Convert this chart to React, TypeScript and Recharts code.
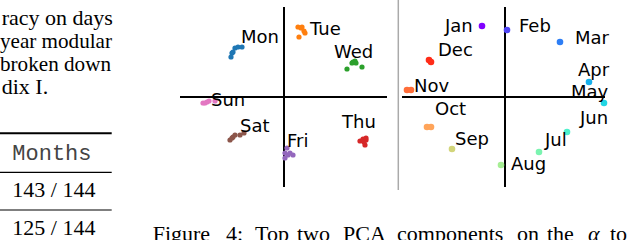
import React from 'react';
import { ScatterChart, Scatter, XAxis, YAxis, ReferenceLine } from 'recharts';

type P = { x: number; y: number };

// ---- Left panel: days of week (PCA components) ----
const days = ['Mon', 'Tue', 'Wed', 'Thu', 'Fri', 'Sat', 'Sun'];
const dayColors = ['#1f77b4', '#ff7f0e', '#2ca02c', '#d62728', '#9467bd', '#8c564b', '#e377c2'];
const monPts: P[] = [{ x: -0.52, y: 0.44 }, { x: -0.49, y: 0.49 }, { x: -0.46, y: 0.5 }, { x: -0.42, y: 0.5 }, { x: -0.51, y: 0.45 }, { x: -0.53, y: 0.4 }];
const tuePts: P[] = [{ x: 0.14, y: 0.7 }, { x: 0.18, y: 0.7 }, { x: 0.21, y: 0.64 }, { x: 0.15, y: 0.6 }, { x: 0.17, y: 0.69 }, { x: 0.2, y: 0.66 }];
const wedPts: P[] = [{ x: 0.69, y: 0.35 }, { x: 0.71, y: 0.36 }, { x: 0.68, y: 0.34 }, { x: 0.63, y: 0.28 }, { x: 0.78, y: 0.3 }, { x: 0.72, y: 0.34 }];
const thuPts: P[] = [{ x: 0.76, y: -0.44 }, { x: 0.79, y: -0.42 }, { x: 0.82, y: -0.43 }, { x: 0.81, y: -0.48 }, { x: 0.8, y: -0.45 }, { x: 0.82, y: -0.41 }];
const friPts: P[] = [{ x: 0.01, y: -0.56 }, { x: 0.03, y: -0.51 }, { x: 0.04, y: -0.58 }, { x: 0.09, y: -0.58 }, { x: 0.01, y: -0.61 }, { x: 0.06, y: -0.56 }];
const satPts: P[] = [{ x: -0.54, y: -0.43 }, { x: -0.51, y: -0.4 }, { x: -0.49, y: -0.38 }, { x: -0.44, y: -0.38 }, { x: -0.4, y: -0.36 }, { x: -0.52, y: -0.41 }];
const sunPts: P[] = [{ x: -0.81, y: -0.06 }, { x: -0.77, y: -0.05 }, { x: -0.69, y: -0.04 }, { x: -0.79, y: -0.06 }, { x: -0.75, y: -0.04 }];
const dayPoints = [monPts, tuePts, wedPts, thuPts, friPts, satPts, sunPts];
const dayLabelAnchors: P[] = [
  { x: -0.43, y: 0.605 }, { x: 0.26, y: 0.685 }, { x: 0.5, y: 0.455 }, { x: 0.58, y: -0.24 },
  { x: 0.03, y: -0.435 }, { x: -0.44, y: -0.285 }, { x: -0.73, y: -0.025 },
];

// ---- Right panel: months ----
const months = ['Jan', 'Feb', 'Mar', 'Apr', 'May', 'Jun', 'Jul', 'Aug', 'Sep', 'Oct', 'Nov', 'Dec'];
const monthColors = ['#8000ff', '#4f44f5', '#2d7ef5', '#17b0ec', '#22d6e3', '#4ef0cc', '#7af4b0', '#a6ee94', '#d2d57a', '#ffa45a', '#ff6e3a', '#ff2c18'];
const monthPoints: P[][] = [
  [{ x: -0.23, y: 0.71 }],
  [{ x: 0.02, y: 0.67 }],
  [{ x: 0.55, y: 0.55 }],
  [{ x: 0.84, y: 0.15 }],
  [{ x: 0.99, y: -0.06 }],
  [{ x: 0.62, y: -0.35 }],
  [{ x: 0.34, y: -0.55 }],
  [{ x: -0.04, y: -0.68 }],
  [{ x: -0.53, y: -0.52 }],
  [{ x: -0.78, y: -0.3 }, { x: -0.74, y: -0.3 }],
  [{ x: -0.98, y: 0.07 }, { x: -0.94, y: 0.07 }],
  [{ x: -0.76, y: 0.37 }, { x: -0.74, y: 0.35 }],
];
const monthLabelAnchors: P[] = [
  { x: -0.6, y: 0.72 }, { x: 0.14, y: 0.72 }, { x: 0.7, y: 0.6 }, { x: 0.73, y: 0.275 },
  { x: 0.66, y: 0.055 }, { x: 0.75, y: -0.2 }, { x: 0.4, y: -0.425 }, { x: 0.06, y: -0.665 },
  { x: -0.5, y: -0.415 }, { x: -0.7, y: -0.11 }, { x: -0.91, y: 0.12 }, { x: -0.67, y: 0.48 },
];

// ---- Surrounding page text ----
const paraLines = ['racy on days', 'year modular', 'broken down', 'dix I.'];
const tableHeader = 'Months';
const tableRows = ['143 / 144', '125 / 144'];
const captionWords = ['Figure', '4:', 'Top', 'two', 'PCA', 'components', 'on', 'the', 'α', 'to'];
const captionX = [152.7, 226, 255, 297, 343, 397, 517, 547, 588, 610];

const labelFont = 'DejaVu Sans';
const serif = 'Liberation Serif';

const dot = (color: string, r: number) => (props: any) => (
  <circle cx={props.cx} cy={props.cy} r={r} fill={color} />
);
const label = (text: string) => (props: any) => (
  <text x={props.cx} y={props.cy} fontFamily={labelFont} fontSize={18} fill="#000" dominantBaseline="central" textAnchor="start">
    {text}
  </text>
);

function Panel(props: {
  names: string[]; colors: string[]; points: P[][]; anchors: P[]; r: number;
  xDomain: [number, number]; left: number; width: number; margin: any;
}) {
  const { names, colors, points, anchors, r, xDomain, left, width, margin } = props;
  return (
    <div style={{ position: 'absolute', left, top: 0 }}>
      <ScatterChart width={width} height={194} margin={margin}>
        <XAxis type="number" dataKey="x" domain={xDomain} hide />
        <YAxis type="number" dataKey="y" domain={[-0.9, 0.9]} hide />
        <ReferenceLine x={0} stroke="#000" strokeWidth={2} />
        <ReferenceLine y={0} stroke="#000" strokeWidth={2} />
        {names.map((n, i) => (
          <Scatter key={n} name={n} data={points[i]} shape={dot(colors[i], r)} isAnimationActive={false} />
        ))}
        {names.map((n, i) => (
          <Scatter key={n + '-lbl'} data={[anchors[i]]} shape={label(n)} isAnimationActive={false} />
        ))}
      </ScatterChart>
    </div>
  );
}

export default function App() {
  const paraX = [1.7, 0, 0, 1.7];
  const paraLen = [undefined, 112, 111, undefined];
  return (
    <div style={{ position: 'fixed', left: 0, top: 0, width: 640, height: 240, overflow: 'hidden', background: '#fff' }}>
      <svg width={640} height={240} style={{ position: 'absolute', left: 0, top: 0 }}>
        {paraLines.map((t, i) => (
          <text key={t} x={paraX[i]} y={24.5 + i * 23} fontFamily={serif} fontSize={22} fill="#000"
            textLength={paraLen[i]} lengthAdjust={paraLen[i] ? 'spacingAndGlyphs' : undefined}>
            {t}
          </text>
        ))}
        <line x1={0} x2={111.7} y1={133.3} y2={133.3} stroke="#000" strokeWidth={2} />
        <text x={12.3} y={160} fontFamily="Liberation Mono" fontSize={22} fill="#444">{tableHeader}</text>
        <line x1={0} x2={111.7} y1={172.3} y2={172.3} stroke="#000" strokeWidth={1.2} />
        <text x={12.3} y={196.7} fontFamily={serif} fontSize={22} fill="#000">{tableRows[0]}</text>
        <line x1={0} x2={111.7} y1={210} y2={210} stroke="#000" strokeWidth={1.2} />
        <text x={12.3} y={235} fontFamily={serif} fontSize={22} fill="#000">{tableRows[1]}</text>
        <line x1={398.3} x2={398.3} y1={0} y2={190} stroke="#aaa" strokeWidth={1.5} />
        <text y={241} fontFamily={serif} fontSize={22} fill="#000">
          {captionWords.map((w, i) => (
            <tspan key={i} x={captionX[i]} fontStyle={w === 'α' ? 'italic' : 'normal'}>{w}</tspan>
          ))}
        </text>
      </svg>
      <Panel names={days} colors={dayColors} points={dayPoints} anchors={dayLabelAnchors} r={2.6}
        xDomain={[-1.04, 1.03]} left={170} width={230} margin={{ top: 7, right: 13, bottom: 7, left: 10 }} />
      <Panel names={months} colors={monthColors} points={monthPoints} anchors={monthLabelAnchors} r={3.3}
        xDomain={[-1.03, 1.0]} left={392} width={238} margin={{ top: 7, right: 25, bottom: 7, left: 10 }} />
    </div>
  );
}
